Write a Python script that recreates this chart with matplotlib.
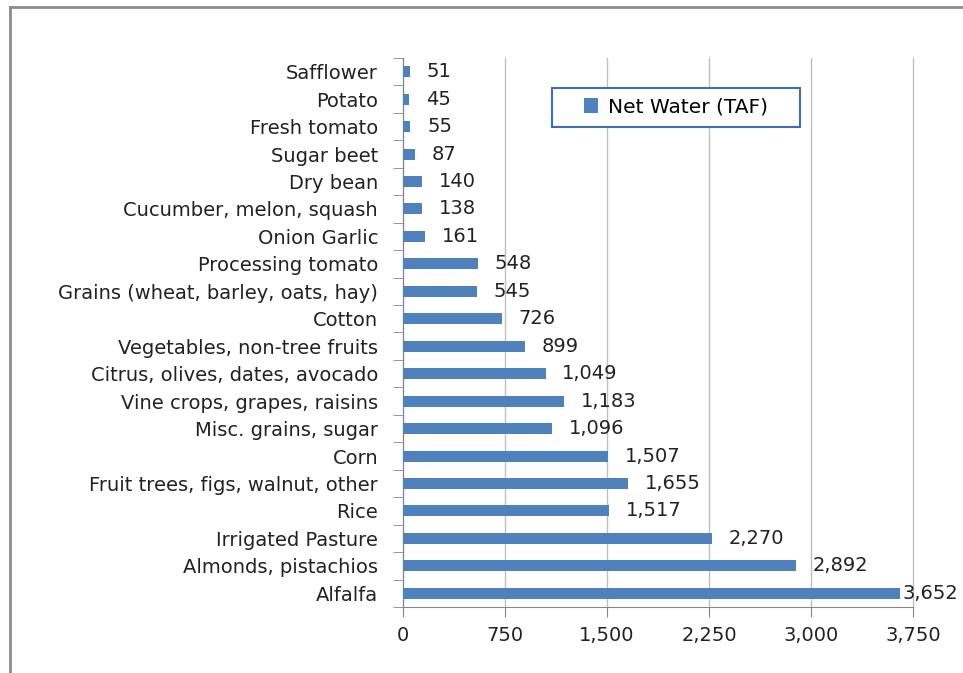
import matplotlib.pyplot as plt
from matplotlib.lines import Line2D
from matplotlib.patches import Rectangle

crops = ["Safflower", "Potato", "Fresh tomato", "Sugar beet", "Dry bean",
         "Cucumber, melon, squash", "Onion Garlic", "Processing tomato",
         "Grains (wheat, barley, oats, hay)", "Cotton", "Vegetables, non-tree fruits",
         "Citrus, olives, dates, avocado", "Vine crops, grapes, raisins",
         "Misc. grains, sugar", "Corn", "Fruit trees, figs, walnut, other",
         "Rice", "Irrigated Pasture", "Almonds, pistachios", "Alfalfa"]
net_water = [51, 45, 55, 87, 140, 138, 161, 548, 545, 726, 899,
             1049, 1183, 1096, 1507, 1655, 1517, 2270, 2892, 3652]
xticks = [0, 750, 1500, 2250, 3000, 3750]

plt.rcParams['font.family'] = ['DejaVu Sans']
fs = 14

fig = plt.figure(figsize=(9.63, 6.73), dpi=100)
ax = fig.add_axes([403/963, 66/673, 510/963, 549/673])

# bottom to top
names = crops[::-1]
vals = net_water[::-1]
ypos = list(range(len(names)))
ax.barh(ypos, vals, height=0.4, color='#4F81BD', label='Net Water (TAF)', zorder=3)

for y, v in zip(ypos, vals):
    off = 2 if v > 3500 else 12
    ax.annotate(f"{v:,}", (v, y), xytext=(off, 0), textcoords='offset points',
                va='center', ha='left', fontsize=fs, color='#222222',
                annotation_clip=False)

ax.set_ylim(-0.5, len(names) - 0.5)
ax.set_xlim(0, 3750)
ax.set_xticks(xticks)
ax.set_xticklabels([f"{t:,}" for t in xticks], fontsize=fs, color='#222222')
ax.set_yticks(ypos)
ax.set_yticklabels(names, fontsize=fs, color='#222222')
ax.set_yticks([i - 0.5 for i in range(len(names) + 1)], minor=True)
ax.tick_params(axis='y', which='major', length=0, pad=18)
ax.tick_params(axis='y', which='minor', length=7, color='#868686', direction='out')
ax.tick_params(axis='x', length=7, color='#868686', direction='out', pad=7)
ax.grid(axis='x', color='#BFBFBF', linewidth=1, zorder=0)
for gl in ax.xaxis.get_gridlines():
    gl.set_clip_on(False)
for s in ['top', 'right']:
    ax.spines[s].set_visible(False)
for s in ['left', 'bottom']:
    ax.spines[s].set_color('#868686')

# legend inside a wider white box, like the Excel one
fig.add_artist(Rectangle((552/963, 1 - 127/673), 248/963, 39/673, facecolor='white',
                         edgecolor='#3F6FB0', linewidth=1.5, zorder=4,
                         transform=fig.transFigure))
leg = fig.legend(loc='center', bbox_to_anchor=(676/963, 1 - 107/673),
                 fontsize=fs + 0.5, frameon=False,
                 handlelength=0.7, handleheight=0.7, handletextpad=0.5,
                 borderpad=0, borderaxespad=0)
leg.set_zorder(5)

# outer chart frame
fig.add_artist(Line2D([10/963, 10/963], [0, 1 - 7/673], color='#8C8C8C', linewidth=2,
                      transform=fig.transFigure))
fig.add_artist(Line2D([10/963, 1], [1 - 7/673, 1 - 7/673], color='#8C8C8C', linewidth=2,
                      transform=fig.transFigure))

fig.savefig('out.png', dpi=100)
